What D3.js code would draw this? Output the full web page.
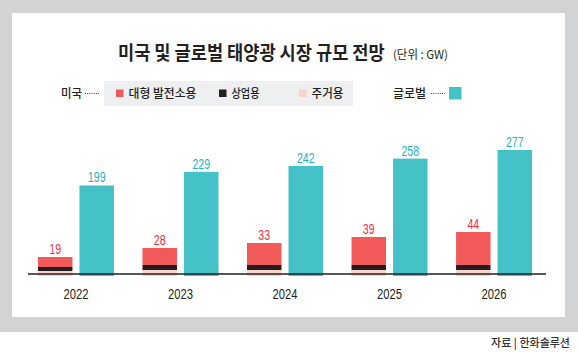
<!DOCTYPE html>
<html>
<head>
<meta charset="utf-8">
<script src="https://cdn.jsdelivr.net/npm/d3@7"></script>
<style>
  body { margin: 0; background: #fff; }
  text { font-family: "Noto Sans CJK KR", "Noto Sans", sans-serif; }
  .num { font-family: "Liberation Sans", Arial, sans-serif; }
</style>
</head>
<body>
<svg id="chart"></svg>
<script>
// data
var years = ["2022", "2023", "2024", "2025", "2026"]
var usTotal = [19, 28, 33, 39, 44]
var usUtility = [10, 17, 22, 28, 33]
var usCommercial = [4, 5, 5, 5, 5]
var usResidential = [5, 6, 6, 6, 6]
var globalTotal = [199, 229, 242, 258, 277]

var legendLabels = ["대형 발전소용", "상업용", "주거용"]
var colors = { utility: "#f25a5a", commercial: "#231f20", residential: "#fbd3c8", global: "#45c2c8" }

var dimensions = { width: 578, height: 352, baseline: 276 }

var svg = d3.select("#chart")
            .attr("width", dimensions.width)
            .attr("height", dimensions.height)

// grey frame + white card
svg.append("rect").attr("x", 0).attr("y", 0).attr("width", 578).attr("height", 332).style("fill", "#d1d3d4")
svg.append("rect").attr("x", 12).attr("y", 13).attr("width", 553).attr("height", 304).style("fill", "#fff")

// squeeze a text horizontally to a target width (keeps the real bbox narrow)
function squeeze(sel, x, y, w) {
  var natural = sel.node().getComputedTextLength()
  sel.attr("transform", `translate(${x},${y}) scale(${w / natural},1)`)
}

// title
var title = svg.append("text")
   .style("font-size", "19px").style("font-weight", "700").style("fill", "#231f20")
   .text("미국 및 글로벌 태양광 시장 규모 전망")
squeeze(title, 118, 60, 267)
var unit = svg.append("text")
   .style("font-size", "12px").style("fill", "#231f20")
   .text("(단위 : GW)")
squeeze(unit, 393, 59, 55)

// legend
var legend = svg.append("g")
legend.append("text").attr("x", 61).attr("y", 97.5)
      .attr("textLength", 21).attr("lengthAdjust", "spacingAndGlyphs")
      .style("font-size", "12.5px").style("font-weight", "500").style("fill", "#231f20").text("미국")
legend.append("line").attr("x1", 85).attr("x2", 99).attr("y1", 93.5).attr("y2", 93.5)
      .style("stroke", "#444").style("stroke-width", 1).style("stroke-dasharray", "1,1.2")
legend.append("rect").attr("x", 104).attr("y", 81).attr("width", 249).attr("height", 25).style("fill", "#eeeff1")

var usKeys = ["utility", "commercial", "residential"]
var legendX = [116, 219, 299]
var legendW = [68, 28, 32]
usKeys.forEach(function (k, i) {
  legend.append("rect").attr("x", legendX[i]).attr("y", 89.5).attr("width", 7.5).attr("height", 7.5).style("fill", colors[k])
  legend.append("text").attr("x", legendX[i] + 12.5).attr("y", 97.5)
        .attr("textLength", legendW[i]).attr("lengthAdjust", "spacingAndGlyphs")
        .style("font-size", "12.5px").style("font-weight", "500").style("fill", "#231f20")
        .text(legendLabels[i])
})
legend.append("text").attr("x", 393).attr("y", 97.5)
      .attr("textLength", 33).attr("lengthAdjust", "spacingAndGlyphs")
      .style("font-size", "12.5px").style("font-weight", "500").style("fill", "#231f20").text("글로벌")
legend.append("line").attr("x1", 431).attr("x2", 445).attr("y1", 93.5).attr("y2", 93.5)
      .style("stroke", "#444").style("stroke-width", 1).style("stroke-dasharray", "1,1.2")
legend.append("rect").attr("x", 449).attr("y", 87).attr("width", 12.5).attr("height", 12.5).style("fill", colors.global)

// scales
var xScale = d3.scaleBand()
               .domain(years)
               .range([23.75, 546.25])
               .paddingInner(0.273)
               .paddingOuter(0.136)
var xInner = d3.scaleBand()
               .domain(["us", "global"])
               .range([0, xScale.bandwidth()])
               .paddingInner(0.169)
var yUS = d3.scaleLinear().domain([0, 44]).range([dimensions.baseline, 232])
var yGlobal = d3.scaleLinear().domain([0, 277]).range([dimensions.baseline, 150])

var rows = years.map(function (y, i) {
  return { year: y, utility: usUtility[i], commercial: usCommercial[i], residential: usResidential[i], total: usTotal[i], global: globalTotal[i] }
})

// stacked US bars (residential at bottom)
var stack = d3.stack().keys(["residential", "commercial", "utility"])
var series = stack(rows)
svg.append("g").selectAll("g")
   .data(series).join("g")
   .style("fill", d => colors[d.key])
   .selectAll("rect")
   .data(d => d).join("rect")
   .attr("x", d => xScale(d.data.year) + xInner("us"))
   .attr("width", xInner.bandwidth())
   .attr("y", d => yUS(d[1]))
   .attr("height", d => yUS(d[0]) - yUS(d[1]))

// global bars
svg.append("g").selectAll("rect")
   .data(rows).join("rect")
   .attr("x", d => xScale(d.year) + xInner("global"))
   .attr("width", xInner.bandwidth())
   .attr("y", d => yGlobal(d.global))
   .attr("height", d => yGlobal(0) - yGlobal(d.global))
   .style("fill", colors.global)

// value labels (condensed look via textLength)
var digitW = 5.9
svg.append("g").selectAll("text")
   .data(rows).join("text")
   .attr("class", "num")
   .attr("x", d => xScale(d.year) + xInner("us") + xInner.bandwidth() / 2)
   .attr("y", d => yUS(d.total) - 3.5)
   .attr("text-anchor", "middle")
   .attr("textLength", d => String(d.total).length * digitW).attr("lengthAdjust", "spacingAndGlyphs")
   .style("font-size", "15px")
   .style("fill", "#ee2f45")
   .text(d => d.total)
svg.append("g").selectAll("text")
   .data(rows).join("text")
   .attr("class", "num")
   .attr("x", d => xScale(d.year) + xInner("global") + xInner.bandwidth() / 2)
   .attr("y", d => yGlobal(d.global) - 3)
   .attr("text-anchor", "middle")
   .attr("textLength", d => String(d.global).length * digitW).attr("lengthAdjust", "spacingAndGlyphs")
   .style("font-size", "15px")
   .style("fill", "#24b3bd")
   .text(d => d.global)

// x axis
var xAxisgen = d3.axisBottom().scale(xScale).tickSize(0).tickPadding(15)
var xAxis = svg.append("g")
               .call(xAxisgen)
               .attr("transform", "translate(0,274)")
xAxis.select(".domain").style("stroke", "#231f20").style("stroke-width", 1.5).attr("d", "M28,0H546")
xAxis.selectAll("text")
     .attr("class", "num")
     .attr("textLength", 25).attr("lengthAdjust", "spacingAndGlyphs")
     .style("font-size", "14px").style("fill", "#231f20")

// source
svg.append("text")
   .attr("x", 570).attr("y", 346.5)
   .attr("text-anchor", "end")
   .style("font-size", "11px").style("font-weight", "500").style("fill", "#333")
   .text("자료 | 한화솔루션")
</script>
</body>
</html>
